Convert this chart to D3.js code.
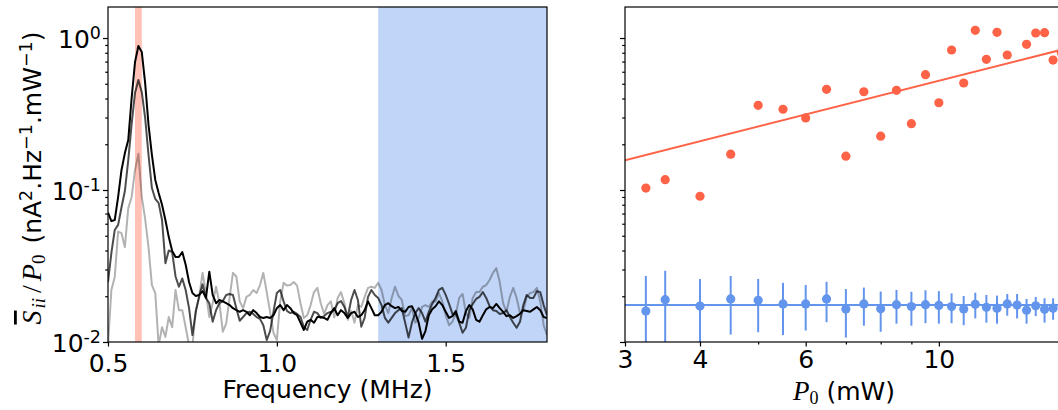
<!DOCTYPE html>
<html><head><meta charset="utf-8">
<script src="https://cdn.jsdelivr.net/npm/d3@7"></script>
<style>body{margin:0;background:#fff} svg{display:block} text{font-family:"DejaVu Sans",sans-serif}</style>
</head><body><svg id="c" width="1058" height="410"></svg>
<script>
// ---------- data ----------
const freq = [0.50,0.51,0.52,0.53,0.54,0.55,0.56,0.57,0.58,0.59,0.60,0.61,0.62,0.63,0.64,0.65,0.66,0.67,0.68,0.69,
0.70,0.71,0.72,0.73,0.74,0.75,0.76,0.77,0.78,0.79,0.80,0.81,0.82,0.83,0.84,0.85,0.86,0.87,0.88,0.89,
0.90,0.91,0.92,0.93,0.94,0.95,0.96,0.97,0.98,0.99,1.00,1.01,1.02,1.03,1.04,1.05,1.06,1.07,1.08,1.09,
1.10,1.11,1.12,1.13,1.14,1.15,1.16,1.17,1.18,1.19,1.20,1.21,1.22,1.23,1.24,1.25,1.26,1.27,1.28,1.29,
1.30,1.31,1.32,1.33,1.34,1.35,1.36,1.37,1.38,1.39,1.40,1.41,1.42,1.43,1.44,1.45,1.46,1.47,1.48,1.49,
1.50,1.51,1.52,1.53,1.54,1.55,1.56,1.57,1.58,1.59,1.60,1.61,1.62,1.63,1.64,1.65,1.66,1.67,1.68,1.69,
1.70,1.71,1.72,1.73,1.74,1.75,1.76,1.77,1.78,1.79,1.80];

const traceLight = [0.0095,0.022,0.0268,0.0533,0.052,0.042,0.076,0.090,0.1355,0.173,0.090,0.0645,0.042,0.0237,0.021,0.0095,0.0125,0.0108,0.0146,0.0125,
0.022,0.0162,0.0162,0.0125,0.0095,0.0095,0.0162,0.0198,0.0285,0.021,0.0146,0.018,0.0231,0.018,0.0117,0.0132,0.0195,0.0285,0.027,0.0185,
0.0167,0.0198,0.0204,0.022,0.021,0.0237,0.0285,0.0213,0.0158,0.0115,0.0103,0.0185,0.0245,0.0235,0.0237,0.0248,0.0235,0.018,0.0144,0.015,
0.0175,0.0213,0.0227,0.018,0.0153,0.0175,0.0185,0.0145,0.0195,0.0213,0.018,0.014,0.016,0.0134,0.0175,0.017,0.0198,0.0227,0.0231,0.0227,
0.0245,0.022,0.0175,0.0155,0.0195,0.0231,0.0201,0.0189,0.0148,0.015,0.0167,0.0134,0.0144,0.017,0.0175,0.017,0.0185,0.0185,0.021,0.0185,
0.015,0.0129,0.0136,0.0153,0.0195,0.0207,0.0155,0.0144,0.0195,0.0213,0.0213,0.0231,0.0237,0.0256,0.0285,0.0306,0.0248,0.018,0.0158,0.0198,
0.0227,0.0195,0.0155,0.0162,0.0198,0.021,0.0213,0.0227,0.0185,0.0129,0.0111];

const traceMid = [0.0248,0.0385,0.0546,0.0590,0.077,0.0985,0.1575,0.272,0.435,0.529,0.44,0.298,0.170,0.103,0.0873,0.082,0.0635,0.033,0.040,0.039,
0.027,0.0231,0.0262,0.022,0.0167,0.0111,0.0158,0.020,0.024,0.0195,0.018,0.0136,0.0162,0.018,0.0186,0.0204,0.0207,0.0204,0.0167,0.0138,
0.0146,0.0155,0.0158,0.0153,0.0146,0.0142,0.0129,0.0103,0.0118,0.0158,0.021,0.022,0.0185,0.016,0.0155,0.0158,0.0153,0.0146,0.0126,0.012,
0.014,0.0158,0.0155,0.0144,0.0148,0.0155,0.0158,0.0162,0.018,0.0186,0.017,0.0146,0.0189,0.022,0.0189,0.0126,0.0144,0.0198,0.022,0.0204,
0.0195,0.0175,0.0144,0.0134,0.0144,0.0155,0.0162,0.0167,0.0134,0.0107,0.0134,0.0155,0.0167,0.0155,0.0136,0.0158,0.0178,0.0195,0.022,0.0227,
0.0204,0.0178,0.0153,0.0153,0.0134,0.0115,0.0124,0.0162,0.0178,0.0192,0.0198,0.0213,0.0195,0.0172,0.0162,0.016,0.0153,0.0155,0.0162,0.0146,
0.0134,0.0124,0.0136,0.0175,0.0204,0.0195,0.0195,0.0216,0.0213,0.0175,0.015];

const traceDark = [0.071,0.0624,0.0635,0.090,0.1355,0.175,0.213,0.403,0.695,0.886,0.81,0.505,0.268,0.170,0.1164,0.0955,0.080,0.0635,0.049,0.0397,
0.0363,0.0363,0.0391,0.0322,0.0248,0.021,0.0201,0.0204,0.0216,0.0195,0.029,0.0204,0.018,0.0189,0.0185,0.018,0.0175,0.0167,0.0162,0.0158,
0.0162,0.0158,0.0150,0.0162,0.0155,0.0146,0.0144,0.0146,0.0144,0.0150,0.0167,0.0175,0.0162,0.0175,0.0167,0.0155,0.0150,0.0134,0.0120,0.0136,
0.0140,0.0134,0.0146,0.0146,0.0144,0.0140,0.0155,0.0167,0.0150,0.0162,0.0155,0.0144,0.0155,0.0158,0.0146,0.0150,0.0162,0.0185,0.0167,0.0150,
0.0150,0.0158,0.0175,0.018,0.0172,0.0167,0.0170,0.016,0.0158,0.017,0.0172,0.0155,0.0134,0.0105,0.0118,0.0150,0.0164,0.0172,0.0185,0.0175,
0.0158,0.0144,0.0148,0.016,0.0136,0.0134,0.016,0.0175,0.0164,0.014,0.0136,0.015,0.0164,0.017,0.0167,0.0178,0.0167,0.0158,0.0148,0.015,
0.0144,0.0148,0.0153,0.0162,0.016,0.0158,0.0164,0.017,0.0162,0.0146,0.0144];

const peakBand = [0.58, 0.60];
const noiseBand = [1.30, 1.80];

const power = [3.25,3.5,4,4.5,5,5.5,6,6.5,7,7.5,8,8.5,9,9.5,10,10.5,11,11.5,12,12.5,13,13.5,14,14.5,15,15.5,16];
const peakSignal = [0.103,0.117,0.091,0.172,0.361,0.340,0.298,0.460,0.167,0.443,0.226,0.453,0.273,0.574,0.375,0.834,0.506,1.124,0.724,1.09,0.773,null,0.909,1.079,1.084,0.716,0.80];
const noiseLevel = [0.0160,0.0190,0.01725,0.0192,0.0188,0.0178,0.0178,0.0192,0.0165,0.0178,0.01657,0.0176,0.0171,0.0176,0.0174,0.0171,0.0165,0.0177,0.0169,0.0167,0.0178,0.0175,0.0162,0.0173,0.0164,0.0167,null];
const noiseErr = [0.0112,0.0104,0.0087,0.0080,0.0072,0.0067,0.0059,0.0057,0.0058,0.0050,0.0049,0.0044,0.0043,0.0043,0.0042,0.0038,0.0036,0.0034,0.0035,0.0035,0.0029,0.0032,0.0030,0.0025,0.0030,0.0027,null];
const peakFitCoef = 0.0523, peakFitExp = 1.0;
const noiseFitLevel = 0.0175;

const freqTicks = [0.5, 1.0, 1.5];
const powerTicks = [3, 4, 6, 10];
const powerMinorTicks = [5, 7, 8, 9];
const yMajor = [0.01, 0.1, 1];
const yTickLabels = [["10","-2"],["10","-1"],["10","0"]];

// ---------- scales ----------
const svg = d3.select("#c");
const T = 7, B = 342;
const xL = d3.scaleLinear().domain([0.5, 1.8]).range([108, 547]);
const xR = d3.scaleLog().domain([3, 16.1]).range([625, 1063]);
const y = d3.scaleLog().domain([0.01, 1.6]).range([B, T]);
const yMinor = y.ticks().filter(v => Math.abs(Math.log10(v) - Math.round(Math.log10(v))) > 1e-6);

const defs = svg.append("defs");
defs.append("clipPath").attr("id","clipL").append("rect")
  .attr("x",xL.range()[0]).attr("y",T).attr("width",xL.range()[1]-xL.range()[0]).attr("height",B-T);
defs.append("clipPath").attr("id","clipR").append("rect")
  .attr("x",xR.range()[0]).attr("y",T).attr("width",xR.range()[1]-xR.range()[0]).attr("height",B-T);

// ---------- left panel ----------
const gL = svg.append("g").attr("clip-path","url(#clipL)");
gL.append("rect").attr("x",xL(peakBand[0])).attr("width",xL(peakBand[1])-xL(peakBand[0]))
  .attr("y",T).attr("height",B-T).attr("fill","tomato").attr("fill-opacity",0.4);
gL.append("rect").attr("x",xL(noiseBand[0])).attr("width",xL(noiseBand[1])-xL(noiseBand[0]))
  .attr("y",T).attr("height",B-T).attr("fill","cornflowerblue").attr("fill-opacity",0.4);

const line = d3.line().x((d,i) => xL(freq[i])).y(d => y(d));
[[traceLight,0.3],[traceMid,0.7],[traceDark,1]].forEach(([s,a]) => {
  gL.append("path").attr("d", line(s)).attr("fill","none").attr("stroke","#000")
    .attr("stroke-opacity",a).attr("stroke-width",2).attr("stroke-linejoin","round");
});

// ---------- right panel ----------
const gR = svg.append("g").attr("clip-path","url(#clipR)");
const fitPts = xR.domain();
gR.append("line").attr("x1",xR(fitPts[0])).attr("x2",xR(fitPts[1]))
  .attr("y1",y(noiseFitLevel)).attr("y2",y(noiseFitLevel))
  .attr("stroke","cornflowerblue").attr("stroke-width",2);
gR.append("line").attr("x1",xR(fitPts[0])).attr("x2",xR(fitPts[1]))
  .attr("y1",y(peakFitCoef*Math.pow(fitPts[0],peakFitExp))).attr("y2",y(peakFitCoef*Math.pow(fitPts[1],peakFitExp)))
  .attr("stroke","tomato").attr("stroke-width",2);

power.forEach((p,i) => {
  if (noiseLevel[i] != null) {
    const lo = Math.max(noiseLevel[i]-noiseErr[i], 0.005);
    gR.append("line").attr("x1",xR(p)).attr("x2",xR(p))
      .attr("y1",y(lo)).attr("y2",y(noiseLevel[i]+noiseErr[i]))
      .attr("stroke","cornflowerblue").attr("stroke-width",2);
    gR.append("circle").attr("cx",xR(p)).attr("cy",y(noiseLevel[i])).attr("r",4.6).attr("fill","cornflowerblue");
  }
  if (peakSignal[i] != null) {
    gR.append("circle").attr("cx",xR(p)).attr("cy",y(peakSignal[i])).attr("r",4.6).attr("fill","tomato");
  }
});

// ---------- frames ----------
[[xL.range()[0],xL.range()[1]],[xR.range()[0],xR.range()[1]]].forEach(([a,b]) => {
  svg.append("rect").attr("x",a).attr("y",T).attr("width",b-a).attr("height",B-T)
    .attr("fill","none").attr("stroke","#000").attr("stroke-width",1.2);
});

// ---------- axes ----------
function styleAxis(g){
  g.select(".domain").remove();
  g.selectAll("line").attr("stroke","#000").attr("stroke-width",1.2);
  g.selectAll("text").attr("font-size",25).attr("font-family","DejaVu Sans").attr("fill","#000");
}
styleAxis(svg.append("g").attr("transform",`translate(0,${B})`)
  .call(d3.axisBottom(xL).tickValues(freqTicks).tickSize(4.5).tickSizeOuter(0).tickPadding(7.5).tickFormat(d3.format(".1f"))));
styleAxis(svg.append("g").attr("transform",`translate(0,${B})`)
  .call(d3.axisBottom(xR).tickValues(powerTicks).tickSize(4.5).tickSizeOuter(0).tickPadding(3.8).tickFormat(d3.format("d"))));
styleAxis(svg.append("g").attr("transform",`translate(0,${B})`)
  .call(d3.axisBottom(xR).tickValues(powerMinorTicks).tickSize(2.6).tickSizeOuter(0).tickFormat("")));

[xL.range()[0], xR.range()[0]].forEach(x0 => {
  styleAxis(svg.append("g").attr("transform",`translate(${x0},0)`)
    .call(d3.axisLeft(y).tickValues(yMajor).tickSize(5).tickSizeOuter(0).tickFormat("")));
  styleAxis(svg.append("g").attr("transform",`translate(${x0},0)`)
    .call(d3.axisLeft(y).tickValues(yMinor).tickSize(2.8).tickSizeOuter(0).tickFormat("")));
});

yMajor.forEach((v,i) => {
  const t = svg.append("text").attr("x",101).attr("y",y(v)+9.5).attr("text-anchor","end")
    .attr("font-size",25).attr("fill","#000");
  t.append("tspan").text(yTickLabels[i][0]);
  t.append("tspan").attr("font-size",17.5).attr("dy",-8.5).text(yTickLabels[i][1]);
});

// ---------- axis labels ----------
svg.append("text").attr("x",(xL.range()[0]+xL.range()[1])/2).attr("y",398).attr("text-anchor","middle")
  .attr("font-size",25).attr("fill","#000").text("Frequency (MHz)");

const xl2 = svg.append("text").attr("x",(xR.range()[0]+xR.range()[1])/2).attr("y",400).attr("text-anchor","middle")
  .attr("font-size",25).attr("fill","#000");
xl2.append("tspan").attr("font-family","Liberation Serif").attr("font-style","italic").attr("font-size",27).text("P");
xl2.append("tspan").attr("font-family","Liberation Serif").attr("font-size",18).attr("dy",4).text("0");
xl2.append("tspan").attr("dy",-4).text(" (mW)");

const yl = svg.append("text").attr("transform",`translate(41,178) rotate(-90)`)
  .attr("text-anchor","middle").attr("font-size",25).attr("fill","#000");
const serif = "Liberation Serif";
yl.append("tspan").attr("font-family",serif).attr("font-style","italic").attr("font-size",28).attr("text-decoration","overline").text("S");
yl.append("tspan").attr("font-family",serif).attr("font-style","italic").attr("font-size",19).attr("dx",2).attr("dy",4).text("ii");
yl.append("tspan").attr("font-family",serif).attr("font-size",28).attr("dx",5).attr("dy",-4).text("/");
yl.append("tspan").attr("font-family",serif).attr("font-style","italic").attr("font-size",28).attr("dx",4).text("P");
yl.append("tspan").attr("font-family",serif).attr("font-size",19).attr("dy",4).text("0");
yl.append("tspan").attr("dy",-4).attr("dx",3).text(" (nA");
yl.append("tspan").attr("font-size",17.5).attr("dy",-9).text("2");
yl.append("tspan").attr("dy",9).text(".Hz");
yl.append("tspan").attr("font-size",17.5).attr("dy",-9).text("\u22121");
yl.append("tspan").attr("dy",9).text(".mW");
yl.append("tspan").attr("font-size",17.5).attr("dy",-9).text("\u22121");
yl.append("tspan").attr("dy",9).text(")");
</script></body></html>
